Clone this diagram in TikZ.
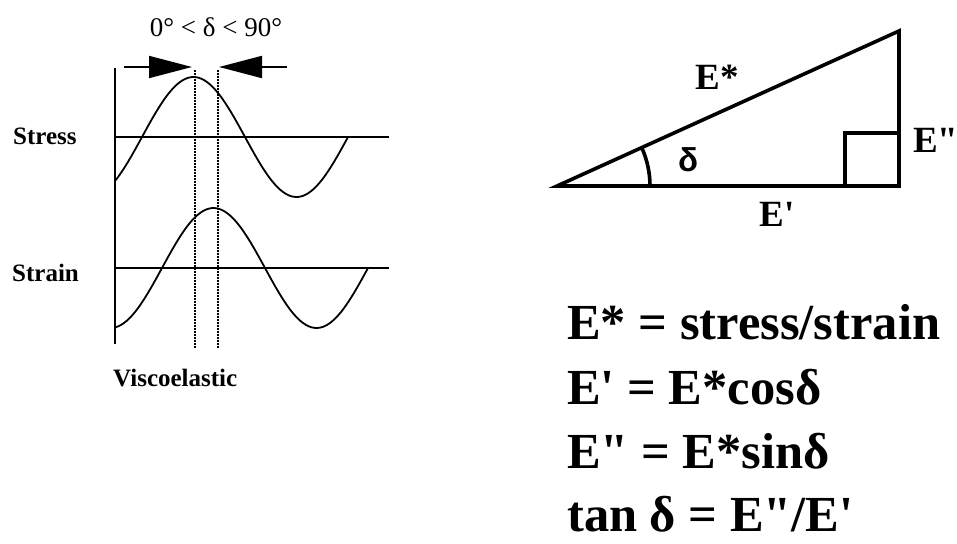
\documentclass[tikz,border=0pt]{standalone}
\usepackage{fontspec}
\setmainfont{Liberation Serif}[Ligatures=TeXOff]
\newfontfamily\sansdelta{Liberation Sans}
\usetikzlibrary{arrows.meta, calc}

\tikzset{
  axisline/.style={line width=1.6pt},
  wave/.style={line width=1.8pt, smooth},
  phaseline/.style={line width=1.8pt, dash pattern=on 1.6pt off 1.4pt},
  bigarrow/.style={line width=1.8pt, -{Triangle[length=43pt, width=22pt]}},
  tri/.style={line width=3.6pt, line join=miter},
  sidelbl/.style={font=\fontsize{25}{25}\selectfont\bfseries},
  trilbl/.style={font=\fontsize{37}{37}\selectfont\bfseries},
  formula/.style={font=\fontsize{50.5}{50.5}\selectfont\bfseries, anchor=base west, inner sep=0pt}
}

\begin{document}
\begin{tikzpicture}[x=1pt, y=-1pt]
  \useasboundingbox (0,0) rectangle (957,543);

  % waves
  \draw[axisline] (115,68) -- (115,344);
  \draw[axisline] (115,137) -- (389,137);
  \draw[axisline] (115,268) -- (389,268);
  \draw[wave] plot[domain=115:348, samples=90] (\x, {137-60*sin((\x-142)/206*360)});
  \draw[wave] plot[domain=115:368, samples=90] (\x, {268-60*sin((\x-162)/206*360)});

  \coordinate (dtopa) at (195,70);
  \coordinate (dbota) at (195,348);
  \coordinate (dtopb) at (218,70);
  \coordinate (dbotb) at (218,348);
  \draw[phaseline] (dtopa) -- (dbota);
  \draw[phaseline] (dtopb) -- (dbotb);

  \coordinate (lstart) at (124,67);
  \coordinate (ltip) at (192,67);
  \coordinate (rstart) at (287,67);
  \coordinate (rtip) at (219,67);
  \draw[bigarrow] (lstart) -- (ltip);
  \draw[bigarrow] (rstart) -- (rtip);

  \node[font=\fontsize{27}{27}\selectfont, anchor=base] (range) at (216,37) {0° < δ < 90°};
  \node[sidelbl, anchor=base west, inner sep=0pt] (stresslbl) at (13,144) {Stress};
  \node[sidelbl, anchor=base west, inner sep=0pt] (strainlbl) at (12,281) {Strain};
  \node[sidelbl, anchor=base west, inner sep=0pt] (visclbl) at (113,386) {Viscoelastic};

  % triangle
  \coordinate (A) at (557,186);
  \coordinate (B) at (899,186);
  \coordinate (C) at (899,31);
  \draw[tri] (A) -- (B) -- (C) -- cycle;
  \draw[tri] (845,186) -- (845,133) -- (899,133);
  \draw[tri] ($(A)+(93,0)$) arc[start angle=0, end angle=-24.4, radius=93];

  \node[font=\fontsize{33}{33}\sansdelta\bfseries] (anglbl) at (688,160) {δ};
  \node[trilbl] (hyplbl) at (717,77) {E*};
  \node[trilbl] (adjlbl) at (777,214) {E'};
  \node[trilbl, anchor=west, inner sep=0pt] (opplbl) at (913,140) {E"};

  % relations
  \node[formula] (f1) at (567,339) {E* = stress/strain};
  \node[formula] (f2) at (567,404) {E' = E*cosδ};
  \node[formula] (f3) at (567,468) {E" = E*sinδ};
  \node[formula] (f4) at (567,531) {tan δ = E"/E'};
\end{tikzpicture}
\end{document}
